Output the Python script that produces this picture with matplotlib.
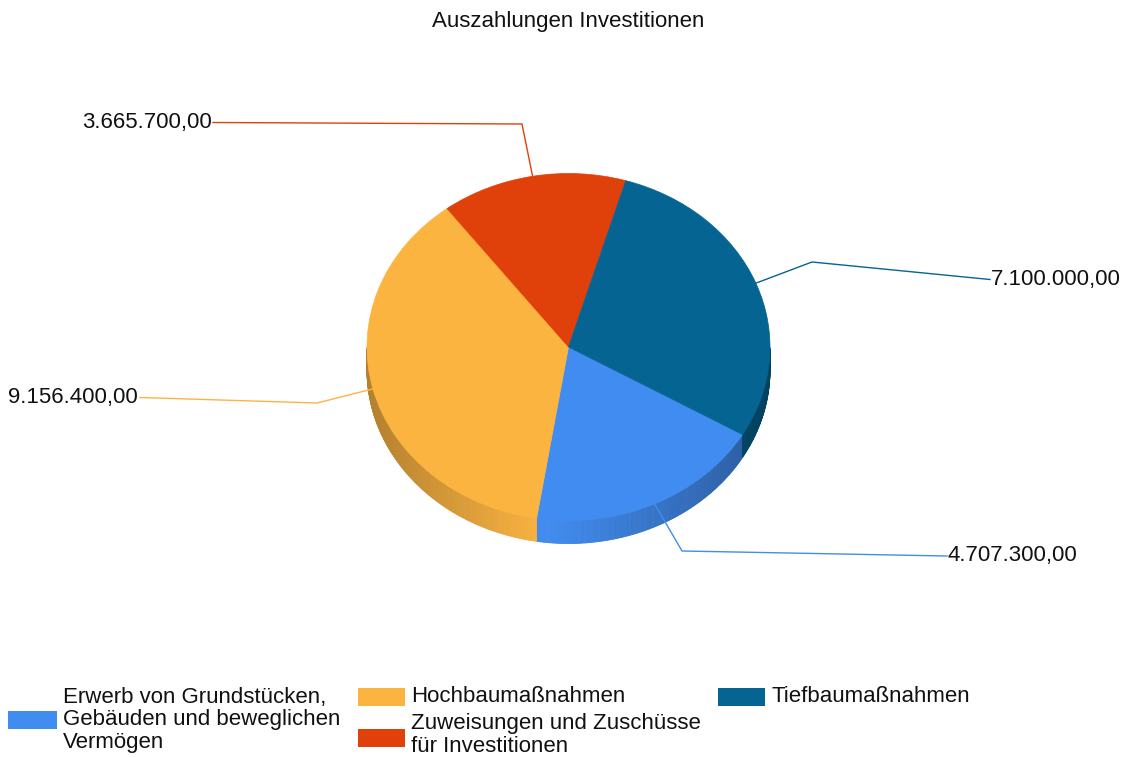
import numpy as np
import matplotlib
matplotlib.use("Agg")
import matplotlib.pyplot as plt
from matplotlib.patches import Rectangle
from matplotlib.collections import PolyCollection
from matplotlib.colors import to_rgb

# ---------------- data ----------------
title = "Auszahlungen Investitionen"
categories = [
    "Erwerb von Grundstücken,\nGebäuden und beweglichen\nVermögen",
    "Hochbaumaßnahmen",
    "Zuweisungen und Zuschüsse\nfür Investitionen",
    "Tiefbaumaßnahmen",
]
values = [4707300.00, 9156400.00, 3665700.00, 7100000.00]
value_labels = ["4.707.300,00", "9.156.400,00", "3.665.700,00", "7.100.000,00"]
colors = ["#418CF0", "#FCB441", "#E0400A", "#056492"]

# ---------------- layout (pixels) ----------------
W, H = 1121, 758
CX, CY, RX, RY = 568.5, 347.0, 201.5, 173.5   # top ellipse of the 3D pie
DEPTH = 23                                     # thickness of the pie side
START = -30.3

# leader elbow, line end, text x, alignment
label_layout = [
    ((682, 551), (947, 556), 948, "left"),
    ((317, 403), (140, 397.5), 138, "right"),
    ((522, 124), (213, 122.5), 212, "right"),
    ((812, 262), (990, 279.5), 991, "left"),
]
# legend: square (x, y, w, h), text (x, y)
legend_layout = [
    ((8, 711, 49, 18), (63, 720)),
    ((358, 688, 47, 18), (411, 697)),
    ((358, 729, 47, 18), (411, 735)),
    ((718, 688, 47, 18), (772, 697)),
]

plt.rcParams["font.family"] = ["Liberation Sans", "DejaVu Sans"]
FS = 16

fig = plt.figure(figsize=(W / 100, H / 100), dpi=100)
fig.patch.set_facecolor("white")

# ---------------- pie (top surface) ----------------
ax = fig.add_axes([0, 0, 1, 1])
wedges, _ = ax.pie(values, colors=colors, startangle=START, counterclock=False,
                   radius=1, center=(0, 0))
for w in wedges:
    w.set_edgecolor(w.get_facecolor())
    w.set_linewidth(0.5)
ax.set_aspect("auto")
ax.set_xlim(-CX / RX, (W - CX) / RX)
ax.set_ylim(-(H - CY) / RY, CY / RY)
ax.axis("off")

# ---------------- pie side (3D extrusion) ----------------
D = DEPTH / RY
polys, cols = [], []
for w, c in zip(wedges, colors):
    n = max(int((w.theta2 - w.theta1) * 2), 2)
    t = np.linspace(w.theta1, w.theta2, n + 1)
    base = np.array(to_rgb(c))
    for a, b in zip(t[:-1], t[1:]):
        m = np.deg2rad((a + b) / 2)
        if np.sin(m) >= 0:
            continue
        ra, rb = np.deg2rad(a), np.deg2rad(b)
        quad = [(np.cos(ra), np.sin(ra)), (np.cos(rb), np.sin(rb)),
                (np.cos(rb), np.sin(rb) - D), (np.cos(ra), np.sin(ra) - D)]
        f = 1 - 0.32 * abs(np.cos(m) + 0.1)
        polys.append(quad)
        cols.append(np.clip(base * f, 0, 1))
pc = PolyCollection(polys, facecolors=cols, edgecolors=cols, linewidths=0.6, zorder=0)
ax.add_collection(pc)

# ---------------- overlay (pixel coordinates) ----------------
ov = fig.add_axes([0, 0, 1, 1], facecolor="none")
ov.set_xlim(0, W)
ov.set_ylim(H, 0)
ov.axis("off")

ov.text(CX, 22, title, ha="center", va="center", fontsize=FS, color="#111111")

for w, c, lab, (elbow, end, tx, ha) in zip(wedges, colors, value_labels, label_layout):
    m = np.deg2rad((w.theta1 + w.theta2) / 2)
    ex, ey = CX + RX * np.cos(m), CY - RY * np.sin(m)
    ov.plot([ex, elbow[0], end[0]], [ey, elbow[1], end[1]], color=c, lw=1.0,
            solid_joinstyle="miter")
    ov.text(tx, end[1], lab, ha=ha, va="center", fontsize=FS, color="#111111")

for cat, c, (sq, tp) in zip(categories, colors, legend_layout):
    ov.add_patch(Rectangle((sq[0], sq[1]), sq[2], sq[3], facecolor=c, edgecolor="none"))
    ov.text(tp[0], tp[1], cat, ha="left", va="center", fontsize=FS,
            linespacing=1.1, color="#111111")

fig.savefig("out.png", dpi=100)
